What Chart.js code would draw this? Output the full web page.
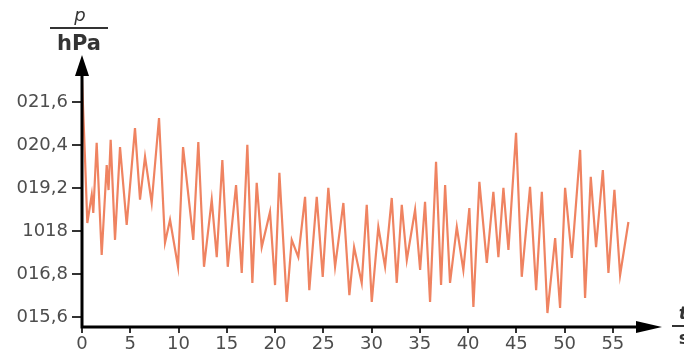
<!DOCTYPE html>
<html>
<head>
<meta charset="utf-8">
<script src="https://cdn.jsdelivr.net/npm/chart.js@4/dist/chart.umd.min.js"></script>
<style>
  html, body { margin: 0; padding: 0; background: #fff; overflow: hidden; }
  #chart { display: block; }
</style>
</head>
<body>
<canvas id="chart" width="684" height="358"></canvas>
<script>
// time in s
const times = [0, 0.31, 0.55, 1.01, 1.17, 1.52, 2.04, 2.56, 2.75, 2.97, 3.42, 3.94, 4.63, 5.49, 6.01, 6.53, 7.22, 7.98,
  8.60, 9.12, 9.95, 10.47, 11.53, 12.05, 12.64, 13.44, 13.96, 14.54, 15.10, 15.96, 16.55, 17.13, 17.65, 18.10, 18.62,
  19.48, 20.00, 20.45, 21.21, 21.73, 22.41, 23.11, 23.55, 24.32, 24.94, 25.52, 26.22, 27.08, 27.70, 28.19, 28.98,
  29.50, 30.02, 30.70, 31.40, 32.09, 32.61, 33.13, 33.65, 34.51, 35.03, 35.54, 36.06, 36.68, 37.20, 37.62, 38.13,
  38.83, 39.51, 40.13, 40.55, 41.17, 41.94, 42.62, 43.14, 43.66, 44.18, 44.97, 45.56, 46.42, 47.05, 47.64, 48.22,
  49.02, 49.53, 50.05, 50.75, 51.61, 52.12, 52.71, 53.26, 53.96, 54.54, 55.16, 55.75, 56.61];
// pressure in hPa
const pressure = [1022.21, 1020.04, 1018.22, 1019.01, 1018.50, 1020.46, 1017.33, 1019.84, 1019.14, 1020.54, 1017.75,
  1020.34, 1018.17, 1020.87, 1018.87, 1020.07, 1018.78, 1021.15, 1017.67, 1018.31, 1017.00, 1020.34, 1017.75, 1020.48,
  1017.00, 1018.87, 1017.27, 1019.98, 1017.00, 1019.28, 1016.83, 1020.40, 1016.55, 1019.34, 1017.55, 1018.53, 1016.49,
  1019.62, 1016.02, 1017.75, 1017.27, 1018.95, 1016.35, 1018.95, 1016.72, 1019.20, 1017.00, 1018.78, 1016.21, 1017.55,
  1016.55, 1018.73, 1016.02, 1018.11, 1017.00, 1018.92, 1016.55, 1018.73, 1017.19, 1018.59, 1016.91, 1018.81, 1016.02,
  1019.93, 1016.49, 1019.28, 1016.55, 1018.11, 1016.91, 1018.64, 1015.88, 1019.37, 1017.11, 1019.09, 1017.27, 1019.20,
  1017.47, 1020.74, 1016.72, 1019.23, 1016.35, 1019.09, 1015.71, 1017.80, 1015.85, 1019.20, 1017.25, 1020.26, 1016.13,
  1019.51, 1017.55, 1019.70, 1016.83, 1019.15, 1016.77, 1018.25];

const xTicks = [0, 5, 10, 15, 20, 25, 30, 35, 40, 45, 50, 55];
const yTicks = [1015.6, 1016.8, 1018, 1019.2, 1020.4, 1021.6];
// labels as they show in the picture (left digit cut off)
const yTickLabels = ['015,6', '016,8', '1018', '019,2', '020,4', '021,6'];

const tickFont = { family: 'DejaVu Sans', size: 18 };
const tickColor = '#4d4d4d';

// axes with arrow heads and the unit fractions
const axisPlugin = {
  id: 'axisArrows',
  afterDraw(chart) {
    const ctx = chart.ctx;
    const a = chart.chartArea;
    ctx.save();
    ctx.strokeStyle = '#000';
    ctx.fillStyle = '#000';
    ctx.lineWidth = 3;
    ctx.beginPath();
    ctx.moveTo(a.left, a.bottom + 1.5);
    ctx.lineTo(a.left, a.top);
    ctx.moveTo(a.left - 1.5, a.bottom);
    ctx.lineTo(a.right, a.bottom);
    ctx.stroke();
    // y arrow
    ctx.beginPath();
    ctx.moveTo(a.left, a.top - 20);
    ctx.lineTo(a.left - 7, a.top + 1);
    ctx.lineTo(a.left + 7, a.top + 1);
    ctx.closePath();
    ctx.fill();
    // x arrow
    ctx.beginPath();
    ctx.moveTo(a.right + 25, a.bottom);
    ctx.lineTo(a.right - 1, a.bottom - 6);
    ctx.lineTo(a.right - 1, a.bottom + 6);
    ctx.closePath();
    ctx.fill();

    // p / hPa
    ctx.fillStyle = '#333';
    ctx.strokeStyle = '#333';
    ctx.textAlign = 'center';
    ctx.textBaseline = 'alphabetic';
    ctx.font = 'italic 18px "DejaVu Sans"';
    ctx.fillText('p', 80, 21);
    ctx.lineWidth = 2;
    ctx.beginPath();
    ctx.moveTo(50, 28);
    ctx.lineTo(108, 28);
    ctx.stroke();
    ctx.font = 'bold 21px "DejaVu Sans"';
    ctx.fillText('hPa', 79, 50);

    // t / s
    ctx.font = 'italic bold 18px "DejaVu Sans"';
    ctx.fillText('t', 683, 319);
    ctx.beginPath();
    ctx.moveTo(672, 326);
    ctx.lineTo(700, 326);
    ctx.stroke();
    ctx.font = 'bold 18px "DejaVu Sans"';
    ctx.fillText('s', 684, 344);
    ctx.restore();
  }
};

new Chart(document.getElementById('chart'), {
  type: 'line',
  data: {
    datasets: [{
      data: times.map((t, i) => ({ x: t, y: pressure[i] })),
      borderColor: '#ef8361',
      borderWidth: 2.2,
      pointRadius: 0,
      tension: 0,
      fill: false
    }]
  },
  options: {
    responsive: false,
    animation: false,
    layout: { padding: { top: 75, right: 47, left: 0, bottom: 0 } },
    plugins: { legend: { display: false }, tooltip: { enabled: false } },
    scales: {
      x: {
        type: 'linear',
        min: 0,
        max: 57.5,
        afterFit: s => { s.height = 31; },
        afterBuildTicks: s => { s.ticks = xTicks.map(v => ({ value: v })); },
        border: { display: false },
        grid: { drawOnChartArea: false, drawTicks: true, tickLength: 6, color: '#333', lineWidth: 2 },
        ticks: { font: tickFont, color: tickColor, padding: 1, maxRotation: 0, autoSkip: false }
      },
      y: {
        type: 'linear',
        min: 1015.32,
        max: 1022.35,
        afterFit: s => { s.width = 82; },
        afterBuildTicks: s => { s.ticks = yTicks.map(v => ({ value: v })); },
        border: { display: false },
        grid: { drawOnChartArea: false, drawTicks: true, tickLength: 10, color: '#333', lineWidth: 2 },
        ticks: {
          font: tickFont,
          color: tickColor,
          padding: 4,
          autoSkip: false,
          callback: v => yTickLabels[yTicks.indexOf(v)]
        }
      }
    }
  },
  plugins: [axisPlugin]
});
</script>
</body>
</html>
